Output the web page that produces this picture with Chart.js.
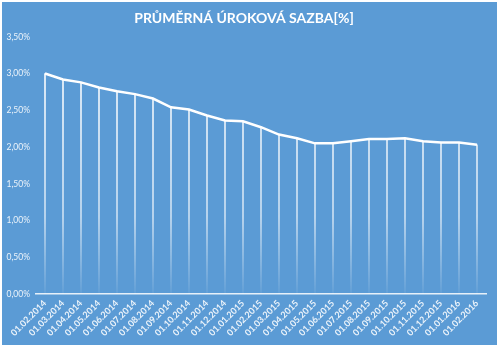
<!DOCTYPE html>
<html>
<head>
<meta charset="utf-8">
<script src="https://cdn.jsdelivr.net/npm/chart.js@4/dist/chart.umd.min.js"></script>
<style>
  html, body { margin: 0; padding: 0; background: #ffffff; }
  #wrap {
    position: absolute; left: 2px; top: 2px;
    width: 495px; height: 343px;
    background: #5b9bd5;
  }
</style>
</head>
<body>
<div id="wrap"><canvas id="sazbaChart" width="495" height="343"></canvas></div>
<script>
const mesice = ['01.02.2014','01.03.2014','01.04.2014','01.05.2014','01.06.2014','01.07.2014',
  '01.08.2014','01.09.2014','01.10.2014','01.11.2014','01.12.2014','01.01.2015','01.02.2015',
  '01.03.2015','01.04.2015','01.05.2015','01.06.2015','01.07.2015','01.08.2015','01.09.2015',
  '01.10.2015','01.11.2015','01.12.2015','01.01.2016','01.02.2016'];
const sazba = [3.00, 2.92, 2.88, 2.81, 2.76, 2.72, 2.66, 2.54, 2.51, 2.43, 2.36, 2.35, 2.27,
  2.17, 2.12, 2.05, 2.05, 2.08, 2.11, 2.11, 2.12, 2.08, 2.06, 2.06, 2.03];
const osaY = { min: 0, max: 3.5, step: 0.5 };

const textColor = 'rgba(255,255,255,0.88)';
const fontName = 'Lato, "Open Sans", sans-serif';

// svislé spojnice od bodu k ose, nahoře bílé, dole slábnou
function dropColor(ctx) {
  const area = ctx.chart.chartArea;
  if (!area) return 'rgba(255,255,255,0.7)';
  const g = ctx.chart.ctx.createLinearGradient(0, area.top, 0, area.bottom);
  g.addColorStop(0, 'rgba(255,255,255,0.9)');
  g.addColorStop(0.7, 'rgba(255,255,255,0.6)');
  g.addColorStop(1, 'rgba(255,255,255,0.05)');
  return g;
}

const config = {
  type: 'line',
  data: {
    labels: mesice,
    datasets: [
      {
        type: 'line',
        data: sazba,
        borderColor: '#ffffff',
        borderWidth: 2.5,
        pointRadius: 0,
        tension: 0,
        order: 0
      },
      {
        type: 'bar',
        data: sazba,
        backgroundColor: dropColor,
        barThickness: 1.2,
        order: 1
      }
    ]
  },
  options: {
    responsive: false,
    animation: false,
    layout: { padding: { left: 0, right: 11, top: 0, bottom: 0 } },
    plugins: {
      legend: { display: false },
      tooltip: { enabled: false },
      title: {
        display: true,
        text: 'PRŮMĚRNÁ ÚROKOVÁ SAZBA[%]',
        color: '#ffffff',
        font: { family: fontName, size: 14, weight: 'bold' },
        padding: { top: 8, bottom: 10 }
      }
    },
    scales: {
      x: {
        offset: true,
        grid: { display: false, drawTicks: false },
        border: { display: true, color: 'rgba(255,255,255,0.85)', width: 1.5 },
        ticks: {
          color: textColor,
          font: { family: fontName, size: 9, weight: 'bold' },
          maxRotation: 45,
          minRotation: 45,
          autoSkip: false,
          padding: 4
        },
        afterFit: (s) => { s.height = 51; }
      },
      y: {
        min: osaY.min,
        max: osaY.max,
        grid: { display: false, drawTicks: false },
        border: { display: false },
        ticks: {
          stepSize: osaY.step,
          color: textColor,
          font: { family: fontName, size: 8.5 },
          padding: 6,
          callback: (v) => v.toFixed(2).replace('.', ',') + '%'
        },
        afterFit: (s) => { s.width = 34; }
      }
    }
  }
};

const sazbaChart = new Chart(document.getElementById('sazbaChart'), config);
</script>
</body>
</html>
